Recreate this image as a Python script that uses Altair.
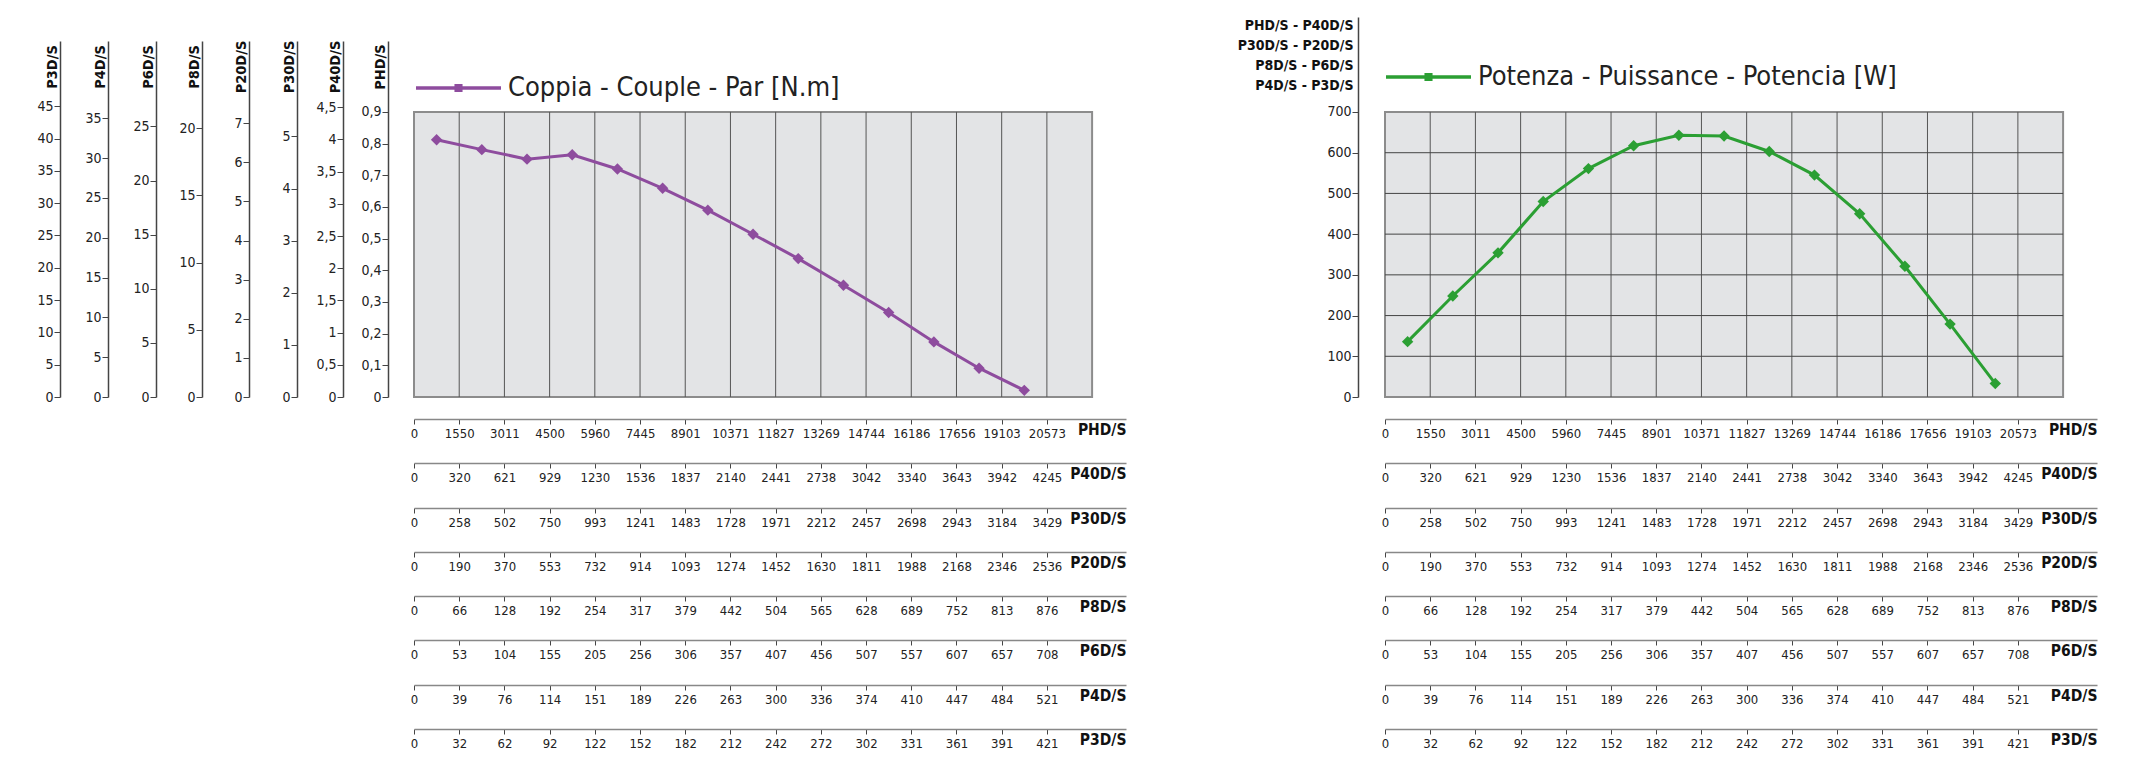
import json
import altair as alt
import pandas as pd

# ---------------- data ----------------
speed_PHD = [0, 1550, 3011, 4500, 5960, 7445, 8901, 10371, 11827, 13269, 14744, 16186, 17656, 19103, 20573]
speed_P40D = [0, 320, 621, 929, 1230, 1536, 1837, 2140, 2441, 2738, 3042, 3340, 3643, 3942, 4245]
speed_P30D = [0, 258, 502, 750, 993, 1241, 1483, 1728, 1971, 2212, 2457, 2698, 2943, 3184, 3429]
speed_P20D = [0, 190, 370, 553, 732, 914, 1093, 1274, 1452, 1630, 1811, 1988, 2168, 2346, 2536]
speed_P8D = [0, 66, 128, 192, 254, 317, 379, 442, 504, 565, 628, 689, 752, 813, 876]
speed_P6D = [0, 53, 104, 155, 205, 256, 306, 357, 407, 456, 507, 557, 607, 657, 708]
speed_P4D = [0, 39, 76, 114, 151, 189, 226, 263, 300, 336, 374, 410, 447, 484, 521]
speed_P3D = [0, 32, 62, 92, 122, 152, 182, 212, 242, 272, 302, 331, 361, 391, 421]

speed_names = ["PHD/S", "P40D/S", "P30D/S", "P20D/S", "P8D/S", "P6D/S", "P4D/S", "P3D/S"]
speed_ticks = [speed_PHD, speed_P40D, speed_P30D, speed_P20D, speed_P8D, speed_P6D, speed_P4D, speed_P3D]

column_edges = [0, 1, 2, 3, 4, 5, 6, 7, 8, 9, 10, 11, 12, 13, 14]
grid_columns = [1, 2, 3, 4, 5, 6, 7, 8, 9, 10, 11, 12, 13, 14]
box_columns = 15

point_slot = [0.5, 1.5, 2.5, 3.5, 4.5, 5.5, 6.5, 7.5, 8.5, 9.5, 10.5, 11.5, 12.5, 13.5]
torque_PHD = [0.812, 0.781, 0.751, 0.765, 0.720, 0.659, 0.590, 0.514, 0.437, 0.353, 0.267, 0.174, 0.091, 0.021]
power_W = [136, 248, 354, 480, 561, 617, 643, 641, 603, 545, 450, 321, 179, 33]

torque_names = ["P3D/S", "P4D/S", "P6D/S", "P8D/S", "P20D/S", "P30D/S", "P40D/S", "PHD/S"]
torque_ticks = [
    [0, 5, 10, 15, 20, 25, 30, 35, 40, 45],
    [0, 5, 10, 15, 20, 25, 30, 35],
    [0, 5, 10, 15, 20, 25],
    [0, 5, 10, 15, 20],
    [0, 1, 2, 3, 4, 5, 6, 7],
    [0, 1, 2, 3, 4, 5],
    [0, 0.5, 1, 1.5, 2, 2.5, 3, 3.5, 4, 4.5],
    [0, 0.1, 0.2, 0.3, 0.4, 0.5, 0.6, 0.7, 0.8, 0.9],
]
torque_top = [55.1, 44.7, 32.9, 26.5, 9.10, 6.83, 5.53, 1.124]
torque_box_top = 0.9

power_ticks = [0, 100, 200, 300, 400, 500, 600, 700]
power_grid = [100, 200, 300, 400, 500, 600]
power_box_top = 700
power_top = 933.3

torque_label = "Coppia - Couple - Par [N.m]"
power_label = "Potenza - Puissance - Potencia [W]"
power_axis_title = ["PHD/S - P40D/S", "P30D/S - P20D/S", "P8D/S - P6D/S", "P4D/S - P3D/S"]

# ---------------- layout / style ----------------
W, H = 712, 380
X_MAX = 15.75
AXIS_TOP = 24
y_offsets = [354, 306, 258, 212, 165, 117, 71, 26]
x_offsets = [22, 66, 111, 155, 199, 243, 288, 332]
FONT = "Liberation Sans Narrow, Arial Narrow, DejaVu Sans Condensed, sans-serif"
PURPLE = "#8e4c9e"
GREEN = "#2b9f33"
BOX_FILL = "#e3e4e6"
BORDER = "#8c8c8c"
LEG_PATH = "M-1,-0.04H1V0.04H-1Z M-0.095,-0.095H0.095V0.095H-0.095Z"
X_LABEL_SIZE = 13
Y_LABEL_SIZE = 14
X_TITLE_SIZE = 15.5
Y_TITLE_SIZE = 14.5

x_scale = alt.Scale(domain=[0, X_MAX], nice=False, zero=False)


def x_axis(k):
    expr = json.dumps([str(v) for v in speed_ticks[k]]) + "[datum.value]"
    return alt.Axis(
        orient="bottom", offset=x_offsets[k], values=column_edges, labelExpr=expr,
        title=speed_names[k], titleX=W, titleY=15, titleAlign="right", titleAngle=0,
        titleBaseline="alphabetic", titleFont=FONT, titleFontSize=X_TITLE_SIZE, titleFontWeight="bold",
        titleColor="#111", labelFont=FONT, labelFontSize=X_LABEL_SIZE, labelColor="#222",
        labelPadding=3, labelFlush=False, labelOverlap=False, labelBound=False,
        tickSize=5, tickColor="#444", tickWidth=1, domainColor="#888", domainWidth=1.5,
        grid=False,
    )


def torque_axis(j):
    return alt.Axis(
        orient="left", offset=y_offsets[j], values=torque_ticks[j],
        labelExpr="replace(toString(datum.value), '.', ',')",
        title=torque_names[j], titleAngle=270, titleX=-3.5, titleY=49.5,
        titleAlign="center", titleBaseline="alphabetic", titleFont=FONT, titleFontSize=Y_TITLE_SIZE,
        titleFontWeight="bold", titleColor="#111", labelFont=FONT, labelFontSize=Y_LABEL_SIZE,
        labelColor="#222", labelPadding=1, labelOverlap=False, labelFlush=False,
        tickSize=6, tickColor="#444", tickWidth=1, domainColor="#444", domainWidth=1.5,
        grid=False,
    )


def torque_scale(j):
    return alt.Scale(domain=[0, torque_top[j]], range=[H, AXIS_TOP], nice=False, zero=False)


power_axis = alt.Axis(
    orient="left", offset=27, values=power_ticks, title=power_axis_title,
    titleAngle=0, titleX=-5, titleY=12, titleAlign="right", titleBaseline="alphabetic",
    titleLineHeight=20, titleFont=FONT, titleFontSize=14, titleFontWeight="bold",
    titleColor="#111", labelFont=FONT, labelFontSize=Y_LABEL_SIZE, labelColor="#222",
    labelPadding=1, labelOverlap=False, labelFlush=False,
    tickSize=6, tickColor="#444", tickWidth=1, domainColor="#444", domainWidth=1.5,
    grid=False,
)
power_scale = alt.Scale(domain=[0, power_top], nice=False, zero=False)


def core(values, color, label, box_top, y_scale, y_axis, hgrid, legend_y, legend_x):
    xa = x_axis(0)
    X = lambda f: alt.X(f, scale=x_scale, axis=xa)
    Y = lambda f: alt.Y(f, scale=y_scale, axis=y_axis)
    box_df = pd.DataFrame({"x": [0], "x2": [box_columns], "y": [0], "y2": [box_top]})
    box = alt.Chart(box_df).mark_rect(fill=BOX_FILL, stroke=BORDER, strokeWidth=2).encode(
        x=X("x:Q"), x2="x2:Q", y=Y("y:Q"), y2="y2:Q")
    vdf = pd.DataFrame({"x": grid_columns, "y": [0] * len(grid_columns), "y2": [box_top] * len(grid_columns)})
    vlines = alt.Chart(vdf).mark_rule(color="#555", strokeWidth=1).encode(
        x=X("x:Q"), y=Y("y:Q"), y2="y2:Q")
    layers = [box, vlines]
    if hgrid:
        hdf = pd.DataFrame({"y": hgrid, "x": [0] * len(hgrid), "x2": [box_columns] * len(hgrid)})
        hlines = alt.Chart(hdf).mark_rule(color="#444", strokeWidth=1).encode(
            x=X("x:Q"), x2="x2:Q", y=Y("y:Q"))
        layers.append(hlines)
    df = pd.DataFrame({"x": point_slot, "y": values, "s": [label] * len(values)})
    line = alt.Chart(df).mark_line(color=color, strokeWidth=3).encode(x=X("x:Q"), y=Y("y:Q"))
    legend = alt.Legend(
        title=None, orient="none", legendX=legend_x, legendY=legend_y,
        symbolType=LEG_PATH, symbolSize=7225, symbolStrokeWidth=0, symbolOpacity=1,
        symbolFillColor=color, labelFont=FONT, labelFontSize=27, labelColor="#222",
        labelOffset=7, labelLimit=0, padding=0,
    )
    pts = alt.Chart(df).mark_point(filled=True, shape="diamond", size=130, opacity=1).encode(
        x=X("x:Q"), y=Y("y:Q"),
        color=alt.Color("s:N", scale=alt.Scale(range=[color]), legend=legend))
    layers += [line, pts]
    return alt.layer(*layers)


def axis_layer(k, j=None):
    df = pd.DataFrame({"t": column_edges, "v": [0] * len(column_edges)})
    enc = {"x": alt.X("t:Q", scale=x_scale, axis=x_axis(k))}
    if j is not None:
        enc["y"] = alt.Y("v:Q", scale=torque_scale(j), axis=torque_axis(j))
    return alt.Chart(df).mark_point(opacity=0).encode(**enc)


left_core = core(torque_PHD, PURPLE, torque_label, torque_box_top, torque_scale(7),
                 torque_axis(7), None, 28.5, 2)
left = alt.layer(left_core, *[axis_layer(k, k - 1) for k in range(1, 8)]).resolve_scale(
    x="independent", y="independent").properties(width=W, height=H)

right_core = core(power_W, GREEN, power_label, power_box_top, power_scale, power_axis,
                  power_grid, 17.5, 1)
right = alt.layer(right_core, *[axis_layer(k) for k in range(1, 8)]).resolve_scale(
    x="independent", y="independent").properties(width=W, height=H)

chart = alt.hconcat(left, right, spacing=259, bounds="flush").resolve_scale(
    color="independent").properties(
    padding={"left": 28, "top": 8, "right": 5, "bottom": 5}
).configure_view(stroke="transparent")

chart.save("out.html", embed_options={"renderer": "svg", "actions": False})
